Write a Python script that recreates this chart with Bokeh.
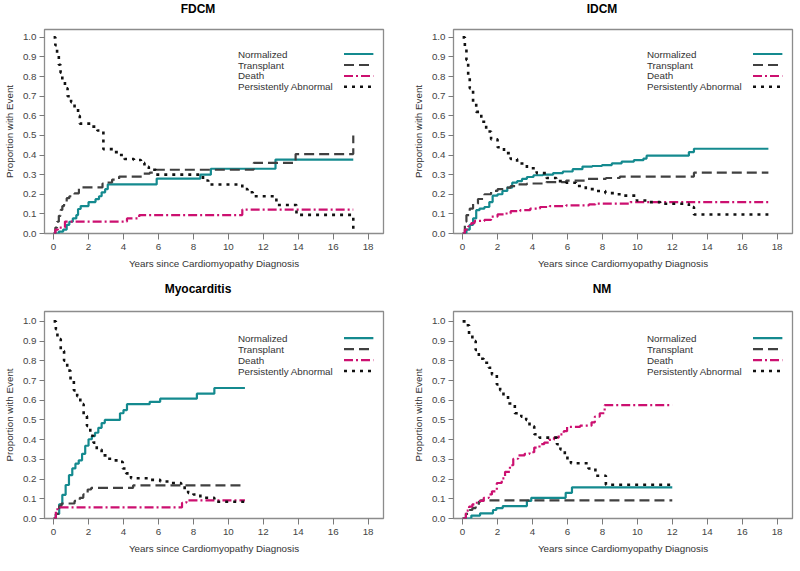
from bokeh.plotting import figure
from bokeh.layouts import column, row
from bokeh.models import Range1d, FixedTicker, PrintfTickFormatter, ColumnDataSource
from bokeh.core.properties import value
from bokeh.embed import file_html
from bokeh.resources import INLINE

# ---------------- data ----------------
series_names = ["Normalized", "Transplant", "Death", "Persistently Abnormal"]
panel_titles = ["FDCM", "IDCM", "Myocarditis", "NM"]
x_ticks = [0, 2, 4, 6, 8, 10, 12, 14, 16, 18]
y_ticks = [0.0, 0.1, 0.2, 0.3, 0.4, 0.5, 0.6, 0.7, 0.8, 0.9, 1.0]
x_label = "Years since Cardiomyopathy Diagnosis"
y_label = "Proportion with Event"

# FDCM
fdcm_end = 17.15
fdcm_norm_x = [0, 0.3, 0.55, 0.75, 0.9, 1.1, 1.3, 1.4, 1.55, 2.0, 2.4, 2.6, 2.75, 2.95, 3.1, 5.9, 8.4, 9.0, 12.7]
fdcm_norm_y = [0, 0.01, 0.02, 0.044, 0.06, 0.077, 0.094, 0.125, 0.14, 0.16, 0.175, 0.19, 0.21, 0.226, 0.25, 0.28, 0.30, 0.33, 0.377]
fdcm_trans_x = [0, 0.1, 0.2, 0.3, 0.4, 0.5, 0.6, 0.75, 0.9, 1.2, 1.45, 2.8, 3.0, 3.35, 3.75, 5.1, 5.5, 5.85, 11.45, 13.85, 17.15]
fdcm_trans_y = [0, 0.03, 0.06, 0.09, 0.12, 0.14, 0.16, 0.18, 0.19, 0.205, 0.235, 0.255, 0.26, 0.275, 0.29, 0.305, 0.31, 0.325, 0.36, 0.405, 0.50]
fdcm_death_x = [0, 0.1, 0.25, 0.65, 4.2, 4.9, 10.8]
fdcm_death_y = [0, 0.02, 0.03, 0.061, 0.077, 0.094, 0.122]
fdcm_abn_x = [0, 0.1, 0.2, 0.3, 0.4, 0.5, 0.65, 0.8, 1.0, 1.2, 1.4, 1.5, 2.1, 2.5, 2.85, 3.4, 3.7, 4.05, 4.6, 5.0, 5.2, 5.45, 5.85, 8.55, 8.85, 10.8, 11.1, 11.4, 12.75, 13.9, 17.15]
fdcm_abn_y = [1.0, 0.96, 0.91, 0.86, 0.82, 0.78, 0.74, 0.70, 0.67, 0.64, 0.60, 0.56, 0.545, 0.525, 0.43, 0.415, 0.40, 0.38, 0.375, 0.36, 0.34, 0.325, 0.30, 0.27, 0.25, 0.226, 0.21, 0.19, 0.145, 0.095, 0.0]

# IDCM
idcm_end = 17.5
idcm_norm_x = [0, 0.22, 0.41, 0.6, 0.78, 0.97, 1.25, 1.53, 1.72, 2.0, 2.28, 2.56, 2.84, 3.12, 3.4, 3.68, 4.06, 4.6, 5.18, 5.74, 6.3, 6.86, 7.42, 7.98, 8.54, 9.1, 9.8, 10.35, 10.53, 12.95, 13.24]
idcm_norm_y = [0, 0.02, 0.044, 0.077, 0.119, 0.127, 0.135, 0.16, 0.193, 0.20, 0.217, 0.234, 0.259, 0.267, 0.278, 0.288, 0.297, 0.30, 0.308, 0.316, 0.328, 0.341, 0.344, 0.349, 0.357, 0.366, 0.374, 0.382, 0.397, 0.415, 0.432]
idcm_trans_x = [0, 0.13, 0.22, 0.41, 0.6, 0.88, 1.25, 1.63, 2.0, 2.37, 2.75, 3.12, 3.68, 4.8, 5.93, 7.0, 8.2, 9.0, 13.24]
idcm_trans_y = [0, 0.06, 0.094, 0.127, 0.152, 0.176, 0.20, 0.217, 0.226, 0.234, 0.242, 0.25, 0.255, 0.262, 0.27, 0.278, 0.283, 0.29, 0.31]
idcm_death_x = [0, 0.13, 0.32, 0.5, 0.69, 1.25, 1.63, 2.0, 2.37, 2.75, 3.3, 3.87, 4.43, 4.99, 5.93, 7.23, 7.6, 9.6]
idcm_death_y = [0, 0.02, 0.036, 0.053, 0.064, 0.069, 0.086, 0.097, 0.102, 0.114, 0.119, 0.127, 0.135, 0.14, 0.143, 0.148, 0.152, 0.16]
idcm_abn_x = [0, 0.13, 0.22, 0.32, 0.41, 0.6, 0.78, 1.07, 1.35, 1.63, 2.0, 2.37, 2.75, 3.12, 3.68, 4.24, 4.8, 5.36, 5.93, 6.49, 7.05, 7.6, 8.17, 8.73, 9.22, 9.97, 10.7, 11.3, 12.95, 13.24]
idcm_abn_y = [1.0, 0.95, 0.885, 0.80, 0.74, 0.67, 0.62, 0.57, 0.52, 0.48, 0.44, 0.41, 0.38, 0.357, 0.333, 0.308, 0.283, 0.267, 0.259, 0.242, 0.226, 0.217, 0.206, 0.20, 0.193, 0.168, 0.16, 0.152, 0.135, 0.097]

# Myocarditis
myo_end = 10.95
myo_norm_x = [0, 0.13, 0.32, 0.5, 0.69, 0.88, 1.07, 1.25, 1.44, 1.63, 1.81, 2.0, 2.19, 2.37, 2.56, 2.75, 2.93, 3.8, 4.0, 4.2, 5.5, 6.1, 8.2, 9.2]
myo_norm_y = [0, 0.023, 0.072, 0.12, 0.17, 0.22, 0.254, 0.278, 0.295, 0.328, 0.369, 0.402, 0.418, 0.435, 0.46, 0.484, 0.50, 0.534, 0.55, 0.58, 0.592, 0.608, 0.633, 0.662]
myo_trans_x = [0, 0.13, 0.32, 0.45, 1.2, 1.5, 1.7, 1.95, 2.15, 4.55]
myo_trans_y = [0, 0.023, 0.064, 0.076, 0.089, 0.105, 0.122, 0.147, 0.155, 0.168]
myo_death_x = [0, 0.13, 0.22, 7.35, 7.6]
myo_death_y = [0, 0.04, 0.056, 0.08, 0.092]
myo_abn_x = [0, 0.13, 0.22, 0.41, 0.6, 0.78, 0.97, 1.16, 1.35, 1.53, 1.72, 1.91, 2.1, 2.28, 2.47, 2.75, 3.03, 3.4, 3.78, 3.96, 4.15, 4.43, 5.55, 6.1, 6.67, 7.3, 7.5, 7.7, 8.0, 8.4, 9.2]
myo_abn_y = [1.0, 0.96, 0.91, 0.85, 0.80, 0.75, 0.70, 0.65, 0.62, 0.58, 0.52, 0.47, 0.42, 0.385, 0.35, 0.32, 0.303, 0.295, 0.287, 0.254, 0.229, 0.204, 0.196, 0.188, 0.18, 0.165, 0.145, 0.13, 0.122, 0.105, 0.085]

# NM
nm_end = 12.0
nm_norm_x = [0, 0.5, 1.0, 1.74, 1.93, 2.3, 3.68, 3.93, 5.9, 6.26]
nm_norm_y = [0, 0.015, 0.026, 0.043, 0.053, 0.063, 0.089, 0.105, 0.13, 0.158]
nm_trans_x = [0, 0.19, 0.37, 0.56, 0.75, 0.93, 1.03]
nm_trans_y = [0, 0.023, 0.043, 0.053, 0.069, 0.086, 0.092]
nm_death_x = [0, 0.19, 0.37, 0.56, 0.75, 0.93, 1.21, 1.5, 1.68, 1.96, 2.24, 2.43, 2.71, 2.9, 3.18, 3.55, 3.83, 4.1, 4.4, 4.67, 4.95, 5.23, 5.5, 5.79, 5.98, 6.73, 7.38, 7.57, 7.85, 8.13]
nm_death_y = [0, 0.04, 0.06, 0.072, 0.08, 0.089, 0.105, 0.122, 0.138, 0.18, 0.204, 0.237, 0.27, 0.303, 0.32, 0.328, 0.336, 0.36, 0.377, 0.385, 0.399, 0.41, 0.427, 0.443, 0.465, 0.471, 0.488, 0.517, 0.534, 0.575]
nm_abn_x = [0, 0.19, 0.37, 0.56, 0.75, 0.93, 1.21, 1.5, 1.68, 1.96, 2.15, 2.34, 2.6, 2.99, 3.36, 3.64, 3.83, 4.1, 4.4, 5.4, 5.6, 5.85, 6.0, 6.2, 7.2, 7.6, 8.2]
nm_abn_y = [1.0, 0.98, 0.93, 0.90, 0.855, 0.81, 0.79, 0.765, 0.73, 0.68, 0.65, 0.624, 0.583, 0.534, 0.517, 0.50, 0.468, 0.427, 0.41, 0.377, 0.35, 0.32, 0.295, 0.28, 0.254, 0.217, 0.171]

panels = [
    (fdcm_end, [(fdcm_norm_x, fdcm_norm_y), (fdcm_trans_x, fdcm_trans_y), (fdcm_death_x, fdcm_death_y), (fdcm_abn_x, fdcm_abn_y)]),
    (idcm_end, [(idcm_norm_x, idcm_norm_y), (idcm_trans_x, idcm_trans_y), (idcm_death_x, idcm_death_y), (idcm_abn_x, idcm_abn_y)]),
    (myo_end, [(myo_norm_x, myo_norm_y), (myo_trans_x, myo_trans_y), (myo_death_x, myo_death_y), (myo_abn_x, myo_abn_y)]),
    (nm_end, [(nm_norm_x, nm_norm_y), (nm_trans_x, nm_trans_y), (nm_death_x, nm_death_y), (nm_abn_x, nm_abn_y)]),
]

# ---------------- style ----------------
FONT = "Liberation Sans"
colors = ["#148A8F", "#404040", "#CC1070", "#111111"]
dashes = ["solid", "10 5", "9 3 2 3", "3 5"]
widths = [2.2, 2.2, 2.2, 2.6]
X_RANGE = (-0.52, 18.88)
FRAME_W = 339

TITLE_X = 8.55
LEG_TEXT_X = 10.55
LEG_LINE_X0, LEG_LINE_X1 = 16.62, 18.3
LEG_Y = [0.915, 0.859, 0.803, 0.748]


def make_title_strip(title, bl, br, h, centre_from_top):
    s = figure(frame_width=FRAME_W, frame_height=h, output_backend="svg", toolbar_location=None,
               x_range=Range1d(*X_RANGE), y_range=Range1d(0, h),
               x_axis_location=None, y_axis_location=None,
               min_border_left=bl, min_border_right=br, min_border_top=0, min_border_bottom=0,
               background_fill_color="white", border_fill_color="white")
    s.outline_line_color = None
    s.grid.visible = False
    s.text(x=[TITLE_X], y=[h - centre_from_top], text=[title], text_font=value(FONT),
           text_font_size="12px", text_font_style="bold", text_align="center",
           text_baseline="middle", text_color="#000000")
    return s


def make_panel(end, series, fh, bl, br, bt, bb, ymax):
    p = figure(frame_width=FRAME_W, frame_height=fh, output_backend="svg", toolbar_location=None,
               x_range=Range1d(*X_RANGE), y_range=Range1d(0, ymax),
               min_border_left=bl, min_border_right=br, min_border_top=bt, min_border_bottom=bb,
               background_fill_color="white", border_fill_color="white")
    p.grid.visible = False
    p.outline_line_color = "#8c8c8c"
    p.outline_line_width = 1.3

    p.xaxis.ticker = FixedTicker(ticks=x_ticks)
    p.yaxis.ticker = FixedTicker(ticks=y_ticks)
    p.yaxis.formatter = PrintfTickFormatter(format="%.1f")
    p.xaxis.axis_label = x_label
    p.yaxis.axis_label = y_label
    for ax in (p.xaxis, p.yaxis):
        ax.axis_line_color = None
        ax.major_tick_line_color = "#7a7a7a"
        ax.major_tick_in = 0
        ax.minor_tick_line_color = None
        ax.major_label_text_font = FONT
        ax.major_label_text_font_size = "9.8px"
        ax.major_label_text_color = "#444444"
        ax.axis_label_text_font = FONT
        ax.axis_label_text_font_size = "9.8px"
        ax.axis_label_text_font_style = "normal"
        ax.axis_label_text_color = "#333333"
    p.xaxis.major_tick_out = 6
    p.xaxis.major_label_standoff = 4
    p.xaxis.axis_label_standoff = 5
    p.yaxis.major_tick_out = 5
    p.yaxis.major_label_standoff = 3
    p.yaxis.axis_label_standoff = 5

    for (xs, ys), c, d, w in zip(series, colors, dashes, widths):
        src = ColumnDataSource(dict(x=list(xs) + [end], y=list(ys) + [ys[-1]]))
        p.step(x="x", y="y", source=src, mode="after", line_color=c, line_dash=d, line_width=w)

    # legend (labels left, samples right, as in the original)
    p.text(x=[LEG_TEXT_X] * 4, y=LEG_Y, text=series_names, text_font=value(FONT),
           text_font_size="9.8px", text_baseline="middle", text_align="left", text_color="#333333")
    for yy, c, d, w in zip(LEG_Y, colors, dashes, widths):
        p.line(x=[LEG_LINE_X0, LEG_LINE_X1], y=[yy, yy], line_color=c, line_dash=d, line_width=w)
    return p


# top row: title strip 18px, panel 258px  -> 276
t1 = make_title_strip(panel_titles[0], 39, 26, 18, 8.5)
t2 = make_title_strip(panel_titles[1], 39, 2, 18, 8.5)
p1 = make_panel(panels[0][0], panels[0][1], 204, 39, 26, 11, 43, 1.04)
p2 = make_panel(panels[1][0], panels[1][1], 204, 39, 2, 11, 43, 1.04)
# bottom row: title strip 22px, panel 257px -> 279
t3 = make_title_strip(panel_titles[2], 39, 26, 22, 12.4)
t4 = make_title_strip(panel_titles[3], 39, 2, 22, 12.4)
p3 = make_panel(panels[2][0], panels[2][1], 207, 39, 26, 13, 37, 1.05)
p4 = make_panel(panels[3][0], panels[3][1], 207, 39, 2, 13, 37, 1.05)

layout = column(row(t1, t2), row(p1, p2), row(t3, t4), row(p3, p4))
open("out.html", "w").write(file_html(layout, INLINE))
